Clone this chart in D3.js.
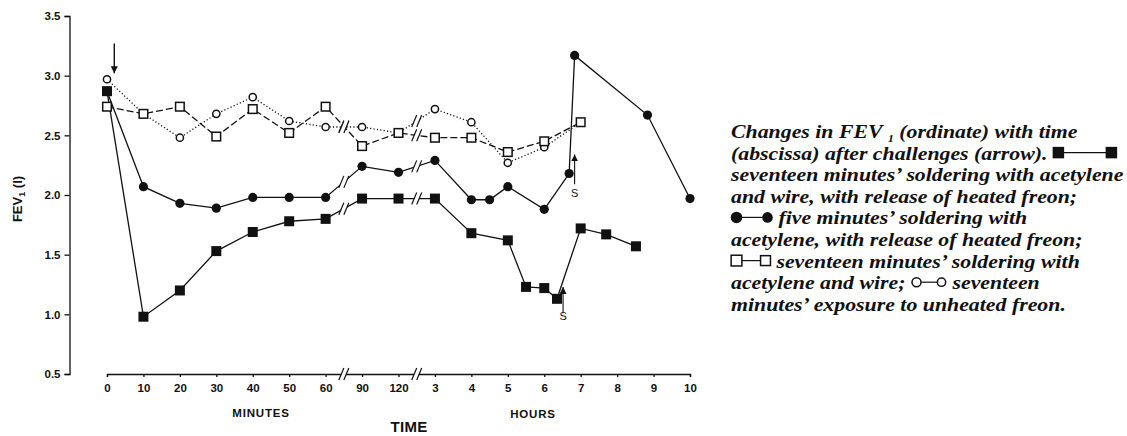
<!DOCTYPE html>
<html>
<head>
<meta charset="utf-8">
<script src="https://cdn.jsdelivr.net/npm/d3@7"></script>
<style>
  body { margin: 0; background: #fff; }
</style>
</head>
<body>
<div id="chart"></div>
<script>
// 1: DATA (time in minutes after challenge, FEV1 in litres)
const tickMinutes = [0, 10, 20, 30, 40, 50, 60, 90, 120, 180, 240, 300, 360, 420, 480, 540, 600];
const tickLabels = ["0", "10", "20", "30", "40", "50", "60", "90", "120", "3", "4", "5", "6", "7", "8", "9", "10"];
const yTicks = [0.5, 1.0, 1.5, 2.0, 2.5, 3.0, 3.5];

// ■ seventeen minutes soldering with acetylene and wire, heated freon
const wireFreonTimes = [0, 10, 20, 30, 40, 50, 60, 90, 120, 180, 240, 300, 330, 360, 381, 420, 462, 511];
const wireFreonFEV = [2.87, 0.98, 1.20, 1.53, 1.69, 1.78, 1.80, 1.97, 1.97, 1.97, 1.68, 1.62, 1.23, 1.22, 1.13, 1.72, 1.67, 1.57];

// ● five minutes soldering with acetylene, heated freon
const fiveMinTimes = [0, 10, 20, 30, 40, 50, 60, 90, 120, 180, 240, 270, 300, 360, 401, 410, 530, 600];
const fiveMinFEV = [2.87, 2.07, 1.93, 1.89, 1.98, 1.98, 1.98, 2.24, 2.19, 2.29, 1.96, 1.96, 2.07, 1.88, 2.18, 3.17, 2.67, 1.97];

// □ seventeen minutes soldering with acetylene and wire
const wireTimes = [0, 10, 20, 30, 40, 50, 60, 90, 120, 180, 240, 300, 360, 420];
const wireFEV = [2.74, 2.68, 2.74, 2.49, 2.72, 2.52, 2.74, 2.41, 2.52, 2.48, 2.48, 2.36, 2.45, 2.61];

// ○ seventeen minutes exposure to unheated freon
const freonTimes = [0, 10, 20, 30, 40, 50, 60, 90, 120, 180, 240, 300, 360, 420];
const freonFEV = [2.97, 2.68, 2.48, 2.68, 2.82, 2.62, 2.57, 2.57, 2.52, 2.72, 2.61, 2.27, 2.40, 2.61];

// axis breaks (minutes)
const breakMinutes = [75, 150];

const captionLines = [
    ["Changes in FEV ", { sub: "1" }, " (ordinate) with time"],
    ["(abscissa) after challenges (arrow). ", { sym: "filledSquare" }],
    ["seventeen minutes\u2019 soldering with acetylene"],
    ["and wire, with release of heated freon;"],
    [{ sym: "filledCircle" }, " five minutes\u2019 soldering with"],
    ["acetylene, with release of heated freon;"],
    [{ sym: "openSquare" }, " seventeen minutes\u2019 soldering with"],
    ["acetylene and wire; ", { sym: "openCircle" }, " seventeen"],
    ["minutes\u2019 exposure to unheated freon."]
];

const series = [
    { times: wireFreonTimes, values: wireFreonFEV, sym: "filledSquare", dash: null },
    { times: fiveMinTimes, values: fiveMinFEV, sym: "filledCircle", dash: null },
    { times: wireTimes, values: wireFEV, sym: "openSquare", dash: "7,3" },
    { times: freonTimes, values: freonFEV, sym: "openCircle", dash: "1.2,2.2" }
];

// 2: SVG + SCALES
const W = 1127, H = 436;
const ink = "#111";
const sFont = "Liberation Sans, Arial, sans-serif";
const svg = d3.select("#chart").append("svg")
    .attr("width", W).attr("height", H);

// minutes -> slot on the broken axis (0..16 tick slots), slot -> pixels
const slot = d3.scaleLinear()
    .domain([0, 60, 90, 120, 180, 600])
    .range([0, 6, 7, 8, 9, 16]);
const xPos = d3.scaleLinear().domain([0, 16]).range([107, 690]);
const xScale = d3.scaleLinear()
    .domain(slot.domain())
    .range(slot.range().map(xPos));
const x = d => xScale(d);
const y = d3.scaleLinear().domain([0.5, 3.5]).range([374, 16]);

// 3: AXES
svg.append("g")
    .attr("transform", `translate(0,${y(0.5)})`)
    .call(d3.axisBottom(xScale)
        .tickValues(tickMinutes)
        .tickFormat((d, i) => tickLabels[i])
        .tickSize(3)
        .tickPadding(7))
    .call(g => g.selectAll("path, line").attr("stroke", ink).attr("stroke-width", 1.3))
    .call(g => g.selectAll("text")
        .attr("fill", ink)
        .style("font-family", sFont)
        .style("font-weight", "bold")
        .style("font-size", "11.5px"));

svg.append("g")
    .attr("transform", `translate(69.5,0)`)
    .call(d3.axisLeft(y)
        .tickValues(yTicks)
        .tickFormat(d3.format(".1f"))
        .tickSize(5)
        .tickPadding(4))
    .call(g => g.selectAll("path, line").attr("stroke", ink).attr("stroke-width", 1.3))
    .call(g => g.selectAll("text")
        .attr("fill", ink)
        .style("font-family", sFont)
        .style("font-weight", "bold")
        .style("font-size", "11.5px"));

// "//" break mark drawn over a line at (cx, cy)
function breakMark(cx, cy) {
    const g = svg.append("g").attr("transform", `translate(${cx},${cy})`);
    g.append("polygon")
        .attr("points", "-4.5,6 0.5,6 4.5,-6 -0.5,-6")
        .attr("fill", "#fff");
    [-2.5, 2.5].forEach(dx => {
        g.append("line")
            .attr("x1", dx - 2.5).attr("y1", 6)
            .attr("x2", dx + 2.5).attr("y2", -6)
            .attr("stroke", ink).attr("stroke-width", 1.2);
    });
}

breakMinutes.forEach(m => breakMark(x(m), y(0.5)));

// 4: LINES
const line = d3.line()
    .x(d => x(d.t))
    .y(d => y(d.v));

series.forEach(s => {
    const pts = s.times.map((t, i) => ({ t: t, v: s.values[i] }));
    s.pts = pts;
    svg.append("path")
        .datum(pts)
        .attr("fill", "none")
        .attr("stroke", ink)
        .attr("stroke-width", 1.3)
        .attr("stroke-dasharray", s.dash)
        .attr("d", line);
});

// break marks on each line where it crosses an axis break
series.forEach(s => {
    breakMinutes.forEach(bm => {
        for (let i = 0; i < s.pts.length - 1; i++) {
            const a = s.pts[i], b = s.pts[i + 1];
            if (a.t < bm && b.t > bm) {
                breakMark((x(a.t) + x(b.t)) / 2, (y(a.v) + y(b.v)) / 2);
            }
        }
    });
});

// 5: MARKERS
function drawSymbol(g, sym, cx, cy, scale) {
    const k = scale || 1;
    if (sym === "filledSquare") {
        g.append("rect").attr("x", cx - 5 * k).attr("y", cy - 5 * k)
            .attr("width", 10 * k).attr("height", 10 * k).attr("fill", ink);
    } else if (sym === "filledCircle") {
        g.append("circle").attr("cx", cx).attr("cy", cy).attr("r", 4.6 * k).attr("fill", ink);
    } else if (sym === "openSquare") {
        g.append("rect").attr("x", cx - 4.3 * k).attr("y", cy - 4.3 * k)
            .attr("width", 8.6 * k).attr("height", 8.6 * k)
            .attr("fill", "#fff").attr("stroke", ink).attr("stroke-width", 1.5);
    } else {
        g.append("circle").attr("cx", cx).attr("cy", cy).attr("r", 3.6 * k)
            .attr("fill", "#fff").attr("stroke", ink).attr("stroke-width", 1.5);
    }
}

// open markers first so filled ones sit on top where they overlap
[series[3], series[2], series[1], series[0]].forEach(s => {
    const g = svg.append("g");
    s.pts.forEach(p => drawSymbol(g, s.sym, x(p.t), y(p.v)));
});

// 6: ANNOTATIONS
svg.append("defs").append("marker")
    .attr("id", "head")
    .attr("viewBox", "0 0 10 10")
    .attr("refX", 10).attr("refY", 5)
    .attr("markerWidth", 7).attr("markerHeight", 7)
    .attr("markerUnits", "userSpaceOnUse")
    .attr("orient", "auto")
    .append("path").attr("d", "M0,0L10,5L0,10Z").attr("fill", ink);

function arrow(t, v1, v2, w) {
    svg.append("line")
        .attr("x1", x(t)).attr("y1", y(v1))
        .attr("x2", x(t)).attr("y2", y(v2))
        .attr("stroke", ink).attr("stroke-width", w)
        .attr("marker-end", "url(#head)");
}
arrow(2, 3.27, 3.02, 1.4);   // challenge arrow
arrow(410, 2.09, 2.34, 1.1); // S for ●
arrow(391, 1.01, 1.23, 1.1); // S for ■

[[410, 1.985], [391, 0.955]].forEach(([t, v]) => {
    svg.append("text")
        .attr("x", x(t)).attr("y", y(v))
        .attr("text-anchor", "middle")
        .attr("fill", ink)
        .style("font-family", sFont)
        .style("font-size", "11px")
        .text("S");
});

// 7: AXIS TITLES
const yLabel = svg.append("text")
    .attr("transform", "translate(22,199) rotate(-90)")
    .attr("text-anchor", "middle")
    .attr("fill", ink)
    .style("font-family", sFont)
    .style("font-weight", "bold")
    .style("font-size", "13px");
yLabel.append("tspan").text("FEV");
yLabel.append("tspan").attr("dy", 3).style("font-size", "9px").text("1");
yLabel.append("tspan").attr("dy", -3).text(" (l)");

[["MINUTES", 261, 416.5, 11.5, 0.8], ["HOURS", 533, 418, 11.5, 0.8], ["TIME", 409, 432, 15, 0.3]]
    .forEach(([txt, cx, by, fs, ls]) => {
        svg.append("text")
            .attr("x", cx).attr("y", by)
            .attr("text-anchor", "middle")
            .attr("fill", ink)
            .style("font-family", sFont)
            .style("font-weight", "bold")
            .style("font-size", fs + "px")
            .style("letter-spacing", ls + "px")
            .text(txt);
    });

// 8: CAPTION WITH INLINE LEGEND
// text is set a little narrow-leaded, so glyphs are widened instead of enlarged
const capX = 731, capSX = 1.12;
const cap = svg.append("g").attr("fill", ink);
const capText = cap.append("g")
    .attr("transform", `translate(${capX},0) scale(${capSX},1)`)
    .style("font-family", "Liberation Serif, Times New Roman, serif")
    .style("font-style", "italic")
    .style("font-weight", "bold")
    .style("font-size", "19.5px");
const capSyms = cap.append("g");

const symWidth = { filledSquare: 64, filledCircle: 42, openSquare: 40, openCircle: 36 };

captionLines.forEach((parts, li) => {
    const by = 138 + li * 21.6;
    let cx = 0; // in unscaled text units
    parts.forEach(p => {
        if (typeof p === "string") {
            const t = capText.append("text")
                .attr("x", cx).attr("y", by)
                .style("white-space", "pre")
                .text(p);
            cx += t.node().getComputedTextLength();
        } else if (p.sub) {
            const t = capText.append("text")
                .attr("x", cx).attr("y", by + 4)
                .style("font-size", "11px")
                .text(p.sub);
            cx += t.node().getComputedTextLength();
        } else {
            const w = symWidth[p.sym];
            const px = capX + cx * capSX;
            const my = by - 7;
            const r = 5.5;
            capSyms.append("line")
                .attr("x1", px + r).attr("x2", px + w - r)
                .attr("y1", my).attr("y2", my)
                .attr("stroke", ink).attr("stroke-width", 1.2);
            drawSymbol(capSyms, p.sym, px + r, my, p.sym === "filledSquare" ? 1.15 : 1.25);
            drawSymbol(capSyms, p.sym, px + w - r, my, 1.15);
            cx += w / capSX;
        }
    });
});
</script>
</body>
</html>
